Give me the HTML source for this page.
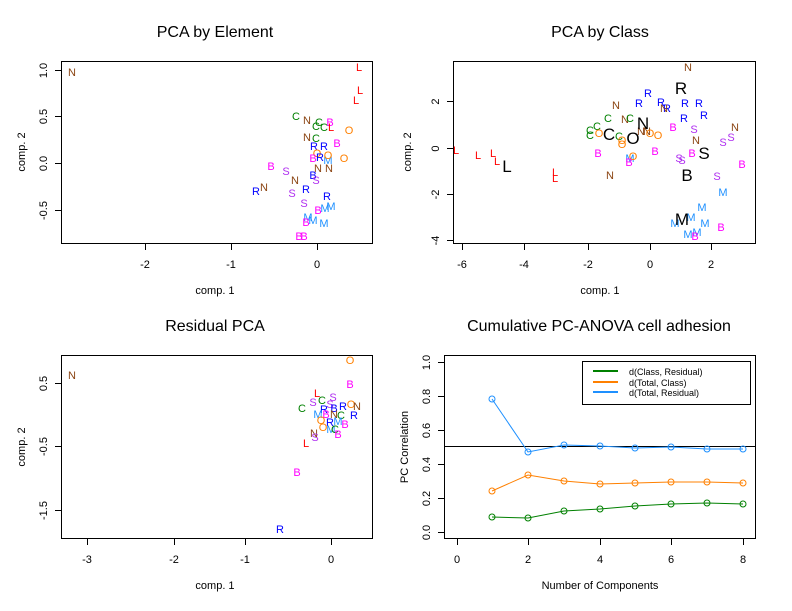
<!DOCTYPE html>
<html><head><meta charset="utf-8"><style>
body{margin:0;background:#fff}
svg{display:block;font-family:"Liberation Sans",sans-serif}
</style></head><body>
<svg width="792" height="611" viewBox="0 0 792 611" xmlns="http://www.w3.org/2000/svg">
<rect width="792" height="611" fill="#fff"/>
<g font-size="16" text-anchor="middle" fill="#000">
<text x="215" y="37">PCA by Element</text>
<text x="600" y="37">PCA by Class</text>
<text x="215" y="331">Residual PCA</text>
<text x="599" y="331">Cumulative PC-ANOVA cell adhesion</text>
</g>
<g fill="none" stroke="#000" stroke-width="1">
<rect x="61.5" y="61.5" width="311" height="182"/>
<rect x="453.5" y="61.5" width="302" height="182"/>
<rect x="61.5" y="355.5" width="311" height="183"/>
<rect x="444.5" y="355.5" width="311" height="183"/>
<path d="M145.5 244v6M231.5 244v6M317.5 244v6M61 70.5h-6M61 116.5h-6M61 163.5h-6M61 210.5h-6"/>
<path d="M462.5 244v6M524.5 244v6M588.5 244v6M650.5 244v6M711.5 244v6M453 101.5h-6M453 148.5h-6M453 194.5h-6M453 240.5h-6"/>
<path d="M87.5 539v6M174.5 539v6M245.5 539v6M331.5 539v6M61 383.5h-6M61 446.5h-6M61 510.5h-6"/>
<path d="M457.5 539v6M528.5 539v6M600.5 539v6M671.5 539v6M743.5 539v6M444 532.5h-6M444 498.5h-6M444 464.5h-6M444 430.5h-6M444 396.5h-6M444 362.5h-6"/>
</g>
<g font-size="11" text-anchor="middle" fill="#000">
<text x="145" y="268">-2</text><text x="231" y="268">-1</text><text x="317" y="268">0</text>
<text x="215" y="294">comp. 1</text>
<text x="462" y="268">-6</text><text x="524" y="268">-4</text><text x="588" y="268">-2</text><text x="650" y="268">0</text><text x="711" y="268">2</text>
<text x="600" y="294">comp. 1</text>
<text x="87" y="563">-3</text><text x="174" y="563">-2</text><text x="245" y="563">-1</text><text x="331" y="563">0</text>
<text x="215" y="589">comp. 1</text>
<text x="457" y="563">0</text><text x="528" y="563">2</text><text x="600" y="563">4</text><text x="671" y="563">6</text><text x="743" y="563">8</text>
<text x="600" y="589">Number of Components</text>
<g transform="translate(47,70.5) rotate(-90)"><text y="0">1.0</text></g>
<g transform="translate(47,116.5) rotate(-90)"><text>0.5</text></g>
<g transform="translate(47,163.5) rotate(-90)"><text>0.0</text></g>
<g transform="translate(47,210.5) rotate(-90)"><text>-0.5</text></g>
<g transform="translate(25,152) rotate(-90)"><text>comp. 2</text></g>
<g transform="translate(439,101.5) rotate(-90)"><text>2</text></g>
<g transform="translate(439,148.5) rotate(-90)"><text>0</text></g>
<g transform="translate(439,194.5) rotate(-90)"><text>-2</text></g>
<g transform="translate(439,240.5) rotate(-90)"><text>-4</text></g>
<g transform="translate(411,152) rotate(-90)"><text>comp. 2</text></g>
<g transform="translate(47,383.5) rotate(-90)"><text>0.5</text></g>
<g transform="translate(47,446.5) rotate(-90)"><text>-0.5</text></g>
<g transform="translate(47,510.5) rotate(-90)"><text>-1.5</text></g>
<g transform="translate(25,447) rotate(-90)"><text>comp. 2</text></g>
<g transform="translate(430,532.5) rotate(-90)"><text>0.0</text></g>
<g transform="translate(430,498.5) rotate(-90)"><text>0.2</text></g>
<g transform="translate(430,464.5) rotate(-90)"><text>0.4</text></g>
<g transform="translate(430,430.5) rotate(-90)"><text>0.6</text></g>
<g transform="translate(430,396.5) rotate(-90)"><text>0.8</text></g>
<g transform="translate(430,362.5) rotate(-90)"><text>1.0</text></g>
<g transform="translate(408,447) rotate(-90)"><text>PC Correlation</text></g>
</g>
<!-- plot1 letters -->
<g font-size="11" text-anchor="middle">
<text x="72" y="76" fill="#8B4513">N</text>
<text x="359" y="71" fill="#f00">L</text><text x="360" y="94" fill="#f00">L</text><text x="356" y="104" fill="#f00">L</text>
<text x="296" y="120" fill="#008000">C</text><text x="307" y="124" fill="#8B4513">N</text><text x="319" y="126" fill="#008000">C</text><text x="330" y="126" fill="#f0f">B</text><text x="316" y="130" fill="#008000">C</text><text x="324" y="131" fill="#008000">C</text><text x="331" y="131" fill="#f00">L</text><text x="349" y="134" fill="#ff8000">O</text>
<text x="307" y="141" fill="#8B4513">N</text><text x="316" y="142" fill="#008000">C</text><text x="314" y="150" fill="#0000ff">R</text><text x="324" y="150" fill="#0000ff">R</text><text x="337" y="147" fill="#f0f">B</text><text x="317" y="157" fill="#ff8000">O</text><text x="320" y="161" fill="#0000ff">R</text><text x="328" y="164" fill="#1e90ff">M</text><text x="313" y="162" fill="#f0f">B</text><text x="328" y="159" fill="#ff8000">O</text><text x="344" y="162" fill="#ff8000">O</text>
<text x="271" y="170" fill="#f0f">B</text><text x="286" y="175" fill="#b030f0">S</text><text x="318" y="172" fill="#8B4513">N</text><text x="329" y="172" fill="#8B4513">N</text><text x="313" y="179" fill="#0000ff">B</text><text x="316" y="184" fill="#b030f0">S</text>
<text x="295" y="184" fill="#8B4513">N</text><text x="264" y="191" fill="#8B4513">N</text><text x="256" y="195" fill="#0000ff">R</text><text x="292" y="197" fill="#b030f0">S</text><text x="306" y="193" fill="#0000ff">R</text><text x="327" y="200" fill="#0000ff">R</text>
<text x="304" y="207" fill="#b030f0">S</text><text x="318" y="214" fill="#f0f">B</text><text x="325" y="212" fill="#1e90ff">M</text><text x="331" y="210" fill="#1e90ff">M</text><text x="308" y="221" fill="#1e90ff">M</text><text x="313" y="224" fill="#1e90ff">M</text><text x="306" y="226" fill="#f0f">B</text><text x="324" y="227" fill="#1e90ff">M</text>
<text x="299" y="240" fill="#f0f">B</text><text x="304" y="240" fill="#f0f">B</text>
</g>
<!-- plot2 letters -->
<g font-size="11" text-anchor="middle">
<text x="456" y="154" fill="#f00">L</text><text x="478" y="159" fill="#f00">L</text><text x="493" y="157" fill="#f00">L</text><text x="497" y="165" fill="#f00">L</text><text x="555" y="176" fill="#f00">L</text><text x="555" y="182" fill="#f00">L</text>
<text x="688" y="71" fill="#8B4513">N</text><text x="648" y="97" fill="#0000ff">R</text><text x="639" y="107" fill="#0000ff">R</text><text x="661" y="106" fill="#0000ff">R</text><text x="667" y="112" fill="#0000ff">R</text><text x="664" y="112" fill="#8B4513">N</text><text x="685" y="107" fill="#0000ff">R</text><text x="699" y="107" fill="#0000ff">R</text><text x="616" y="109" fill="#8B4513">N</text><text x="684" y="122" fill="#0000ff">R</text><text x="704" y="119" fill="#0000ff">R</text>
<text x="625" y="123" fill="#8B4513">N</text><text x="630" y="122" fill="#008000">C</text><text x="608" y="122" fill="#008000">C</text><text x="597" y="130" fill="#008000">C</text><text x="590" y="134" fill="#008000">C</text><text x="590" y="139" fill="#008000">C</text><text x="599" y="137" fill="#ff8000">O</text><text x="673" y="131" fill="#f0f">B</text><text x="694" y="133" fill="#b030f0">S</text><text x="735" y="131" fill="#8B4513">N</text><text x="731" y="141" fill="#b030f0">S</text><text x="723" y="146" fill="#b030f0">S</text>
<text x="641" y="135" fill="#8B4513">N</text><text x="647" y="135" fill="#8B4513">N</text><text x="650" y="137" fill="#ff8000">O</text><text x="658" y="139" fill="#ff8000">O</text><text x="619" y="140" fill="#008000">C</text><text x="622" y="144" fill="#ff8000">O</text><text x="622" y="148" fill="#ff8000">O</text><text x="696" y="144" fill="#8B4513">N</text>
<text x="598" y="157" fill="#f0f">B</text><text x="655" y="155" fill="#f0f">B</text><text x="692" y="157" fill="#f0f">B</text><text x="679" y="162" fill="#b030f0">S</text><text x="682" y="164" fill="#b030f0">S</text><text x="742" y="168" fill="#f0f">B</text><text x="630" y="162" fill="#1e90ff">M</text><text x="633" y="160" fill="#ff8000">O</text><text x="629" y="166" fill="#f0f">B</text><text x="610" y="179" fill="#8B4513">N</text>
<text x="717" y="180" fill="#b030f0">S</text><text x="723" y="196" fill="#1e90ff">M</text><text x="702" y="211" fill="#1e90ff">M</text><text x="675" y="227" fill="#1e90ff">M</text><text x="691" y="221" fill="#1e90ff">M</text><text x="705" y="227" fill="#1e90ff">M</text><text x="721" y="231" fill="#f0f">B</text><text x="688" y="238" fill="#1e90ff">M</text><text x="697" y="236" fill="#1e90ff">M</text><text x="695" y="240" fill="#f0f">B</text>
</g>
<g font-size="17" text-anchor="middle" fill="#000">
<text x="507" y="172">L</text><text x="609" y="140">C</text><text x="633" y="144">O</text><text x="643" y="129">N</text><text x="681" y="94">R</text><text x="704" y="159">S</text><text x="687" y="181">B</text><text x="682" y="225">M</text>
</g>
<!-- plot3 letters -->
<g font-size="11" text-anchor="middle">
<text x="72" y="379" fill="#8B4513">N</text><text x="350" y="364" fill="#ff8000">O</text><text x="350" y="388" fill="#f0f">B</text><text x="317" y="397" fill="#f00">L</text>
<text x="302" y="412" fill="#008000">C</text><text x="313" y="406" fill="#b030f0">S</text><text x="322" y="404" fill="#008000">C</text><text x="330" y="408" fill="#b030f0">S</text><text x="333" y="401" fill="#b030f0">S</text><text x="324" y="413" fill="#0000ff">R</text><text x="334" y="412" fill="#0000ff">B</text><text x="343" y="410" fill="#0000ff">R</text><text x="351" y="408" fill="#ff8000">O</text><text x="357" y="410" fill="#8B4513">N</text>
<text x="318" y="418" fill="#1e90ff">M</text><text x="326" y="418" fill="#f0f">B</text><text x="334" y="418" fill="#8B4513">N</text><text x="341" y="419" fill="#008000">C</text><text x="354" y="419" fill="#0000ff">R</text><text x="321" y="424" fill="#ff8000">O</text><text x="330" y="426" fill="#0000ff">R</text><text x="338" y="425" fill="#1e90ff">M</text><text x="345" y="428" fill="#f0f">B</text>
<text x="323" y="431" fill="#ff8000">O</text><text x="331" y="433" fill="#1e90ff">M</text><text x="335" y="433" fill="#008000">C</text><text x="338" y="438" fill="#f0f">B</text><text x="314" y="437" fill="#8B4513">N</text><text x="315" y="441" fill="#b030f0">S</text><text x="306" y="447" fill="#f00">L</text>
<text x="297" y="476" fill="#f0f">B</text><text x="280" y="533" fill="#0000ff">R</text>
</g>
<!-- plot4 -->
<line x1="444" y1="446.5" x2="755" y2="446.5" stroke="#000"/>
<g fill="none" stroke-width="1">
<polyline stroke="#1e90ff" points="492,399 528,452 564,445 600,446 635,448 671,447 707,449 743,449"/>
<polyline stroke="#ff8000" points="492,491 528,475 564,481 600,484 635,483 671,482 707,482 743,483"/>
<polyline stroke="#008000" points="492,517 528,518 564,511 600,509 635,506 671,504 707,503 743,504"/>
<g stroke="#1e90ff"><circle cx="492" cy="399" r="3"/><circle cx="528" cy="452" r="3"/><circle cx="564" cy="445" r="3"/><circle cx="600" cy="446" r="3"/><circle cx="635" cy="448" r="3"/><circle cx="671" cy="447" r="3"/><circle cx="707" cy="449" r="3"/><circle cx="743" cy="449" r="3"/></g>
<g stroke="#ff8000"><circle cx="492" cy="491" r="3"/><circle cx="528" cy="475" r="3"/><circle cx="564" cy="481" r="3"/><circle cx="600" cy="484" r="3"/><circle cx="635" cy="483" r="3"/><circle cx="671" cy="482" r="3"/><circle cx="707" cy="482" r="3"/><circle cx="743" cy="483" r="3"/></g>
<g stroke="#008000"><circle cx="492" cy="517" r="3"/><circle cx="528" cy="518" r="3"/><circle cx="564" cy="511" r="3"/><circle cx="600" cy="509" r="3"/><circle cx="635" cy="506" r="3"/><circle cx="671" cy="504" r="3"/><circle cx="707" cy="503" r="3"/><circle cx="743" cy="504" r="3"/></g>
</g>
<rect x="582.5" y="361.5" width="168" height="43" fill="#fff" stroke="#000"/>
<g stroke-width="2"><line x1="593" y1="371" x2="618" y2="371" stroke="#008000"/><line x1="593" y1="382" x2="618" y2="382" stroke="#ff8000"/><line x1="593" y1="392" x2="618" y2="392" stroke="#1e90ff"/></g>
<g font-size="9" fill="#000"><text x="629" y="375">d(Class, Residual)</text><text x="629" y="386">d(Total, Class)</text><text x="629" y="396">d(Total, Residual)</text></g>
</svg>
</body></html>
